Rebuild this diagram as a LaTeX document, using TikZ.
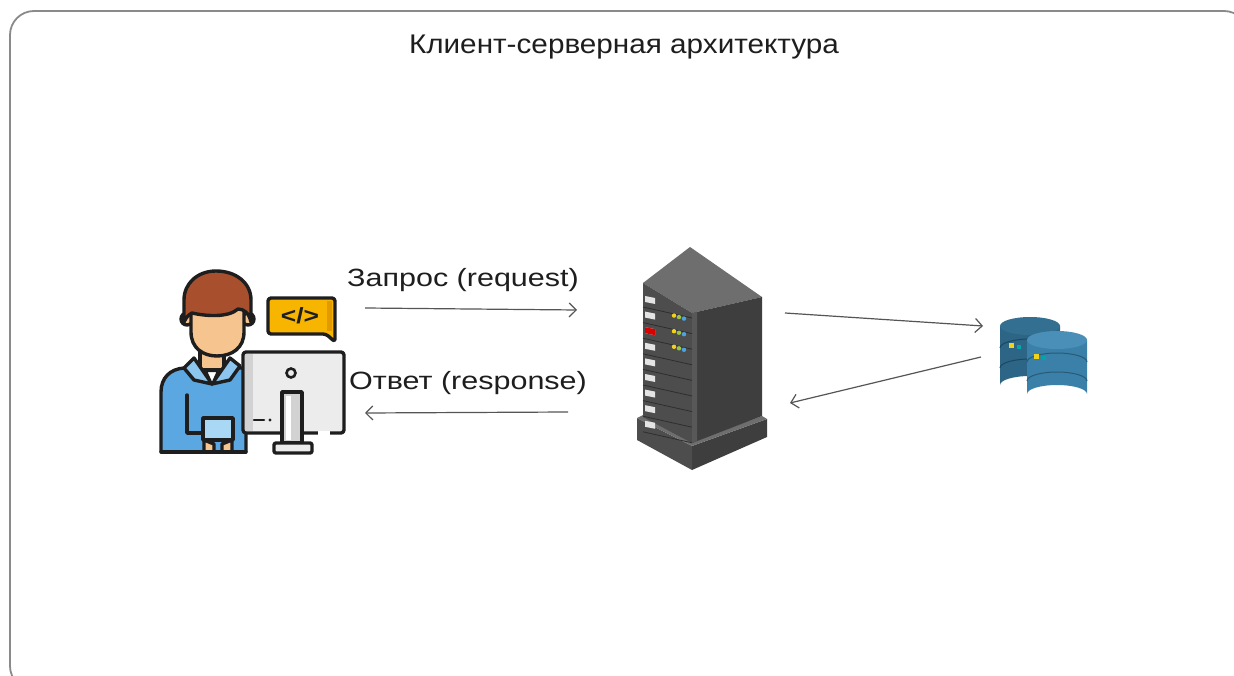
\documentclass[tikz,border=0pt]{standalone}
\usepackage{fontspec}
\setmainfont{Liberation Sans}
\usetikzlibrary{arrows.meta}
\definecolor{ink}{HTML}{1E1E1E}
\definecolor{framegray}{HTML}{8A8A8A}
\definecolor{arrowgray}{HTML}{555555}
\definecolor{hair}{HTML}{A8502E}
\definecolor{skin}{HTML}{F6C48E}
\definecolor{shirt}{HTML}{5AA7E2}
\definecolor{collar}{HTML}{8CC6EE}
\definecolor{pad}{HTML}{A9D8F5}
\definecolor{bubble}{HTML}{F7B500}
\definecolor{bubbledark}{HTML}{E29A00}
\definecolor{screen}{HTML}{ECECEC}
\definecolor{screendark}{HTML}{D2D2D2}
\definecolor{srvtop}{HTML}{6E6E6E}
\definecolor{srvfront}{HTML}{4D4D4D}
\definecolor{srvside}{HTML}{3E3E3E}
\definecolor{srvline}{HTML}{2E2E2E}
\definecolor{slot}{HTML}{E4E4E4}
\definecolor{ledy}{HTML}{F2D21B}
\definecolor{ledg}{HTML}{9BC53D}
\definecolor{ledb}{HTML}{4AA3DF}
\definecolor{dbback}{HTML}{2C6585}
\definecolor{dbbacktop}{HTML}{336F90}
\definecolor{dbfront}{HTML}{3A80A8}
\definecolor{dbfronttop}{HTML}{4A8FB8}
\tikzset{
  outline/.style={draw=ink, line width=3.4pt, line join=round, line cap=round},
  flow/.style={draw=arrowgray, line width=1.2pt, -{Straight Barb[length=7pt,width=14pt,line width=1.2pt]}},
  label/.style={font=\fontsize{25}{28}\selectfont, text=ink, inner sep=0pt},
  iconbox/.style={inner sep=0pt, draw=none}
}
\begin{document}
\begin{tikzpicture}[x=1pt,y=-1pt]
\useasboundingbox (0,0) rectangle (1234,676);
\fill[white] (0,0) rectangle (1234,676);
\begin{scope}
\clip (0,0) rectangle (1234,676);
% outer frame
\draw[framegray, line width=1.8pt, rounded corners=24pt] (10,11) rectangle (1248,690);
\end{scope}

% title
\node[label, font=\fontsize{27}{30}\selectfont] (title) at (624,47) {\scalebox{1.1}[1]{Клиент-серверная архитектура}};

% ---------- client: developer at a monitor ----------
\node[iconbox, minimum width=187pt, minimum height=190pt] (client) at (252,362) {};
% body
\filldraw[fill=shirt, outline] (161,452) -- (161,392) .. controls (161,378) and (170,369) .. (184,368)
  -- (246,368) -- (246,452) -- cycle;
% arm line and forearm
\draw[outline] (187,395) -- (187,433) -- (203,433);
% neck
\filldraw[fill=skin, outline] (200,348) rectangle (224,370);
% collar
\filldraw[fill=collar, outline] (194,358) -- (212,384) -- (230,358) -- (240,366) -- (230,380) -- (212,384) -- (194,380) -- (184,368) -- cycle;
\filldraw[fill=white, draw=ink, line width=2pt] (206,371) -- (212,384) -- (218,371) -- cycle;
% ears
\filldraw[fill=skin, outline] (187,319) circle (6);
\filldraw[fill=skin, outline] (248,319) circle (6);
% face
\filldraw[fill=skin, outline] (191,300) -- (191,332) .. controls (191,348) and (203,356) .. (217,356)
  .. controls (232,356) and (244,348) .. (244,332) -- (244,300) -- cycle;
% hair
\filldraw[fill=hair, outline] (184,322) -- (184,300) .. controls (184,283) and (198,271) .. (216,271)
  .. controls (236,271) and (251,283) .. (251,300) -- (251,322)
  .. controls (249,313) and (244,309) .. (238,309)
  .. controls (228,318) and (205,316) .. (192,313)
  .. controls (188,315) and (186,318) .. (184,322) -- cycle;
% tablet and hands
\filldraw[fill=pad, outline] (203,418) rectangle (233,440);
\filldraw[fill=skin, outline] (204,440) -- (204,452) -- (214,452) -- (214,444) -- cycle;
\filldraw[fill=skin, outline] (232,440) -- (232,452) -- (222,452) -- (222,444) -- cycle;
\draw[outline] (161,452) -- (246,452);
% code bubble
\filldraw[fill=bubble, outline, rounded corners=3pt] (268,298) -- (335,298) -- (335,342) -- (326,334) -- (268,334) -- cycle;
\fill[bubbledark] (327,301) rectangle (332,331);
\node[inner sep=0pt, font=\fontsize{22}{22}\selectfont\bfseries, text=ink] (code) at (300,316) {\scalebox{1.2}[1]{</>}};
% monitor
\filldraw[fill=screen, outline, rounded corners=3pt] (243,352) rectangle (344,433);
\fill[screendark] (245,354) rectangle (253,431);
\draw[white, line width=4pt] (318,433) -- (330,433);
\draw[ink, line width=2.6pt] (291,373) circle (4.5);
\draw[ink, line width=2.6pt, line cap=round] (254,420) -- (264,420);
\fill[ink] (270,420) circle (1.6);
% stand and base
\filldraw[fill=screendark, outline] (282,392) rectangle (302,443);
\fill[white] (286,396) rectangle (291,440);
\filldraw[fill=screen, outline, rounded corners=2pt] (274,443) rectangle (312,453);

% ---------- server tower ----------
\node[iconbox, minimum width=130pt, minimum height=225pt] (server) at (702,357) {};
% plinth
\fill[srvside] (692,446) -- (767,419) -- (767,437) -- (692,470) -- cycle;
\fill[srvfront] (637,418) -- (692,446) -- (692,470) -- (637,440) -- cycle;
\fill[srvtop] (637,418) -- (643,415) -- (692,442) -- (762,416) -- (767,419) -- (692,446) -- cycle;
% faces
\fill[srvtop] (643,283) -- (690,247) -- (762,297) -- (692,313) -- cycle;
\fill[srvfront] (643,283) -- (692,313) -- (692,443) -- (643,417) -- cycle;
\fill[srvside] (692,313) -- (762,297) -- (762,416) -- (692,443) -- cycle;
\fill[srvtop!80!black] (692,313) -- (697,312) -- (697,441) -- (692,443) -- cycle;
% drawer separators and slots
\foreach \i in {0,...,8}{
  \pgfmathsetmacro{\y}{296+15.6*\i}
  \draw[srvline, line width=0.8pt] (643,\y+11) -- (692,\y+22);
  \fill[slot] (645,\y) -- (655,\y+2) -- (655,\y+8) -- (645,\y+6) -- cycle;
}
\fill[red!85!black] (645,327.2) -- (655,329.2) -- (655,335.2) -- (645,333.2) -- cycle;
\foreach \i in {1,2,3}{
  \pgfmathsetmacro{\y}{296+15.6*\i}
  \fill[ledy] (674,\y+4) circle (2.2);
  \fill[ledg] (679,\y+5.5) circle (2.2);
  \fill[ledb] (684,\y+7) circle (2.2);
}

% ---------- database ----------
\node[iconbox, minimum width=90pt, minimum height=88pt] (db) at (1044,360) {};
% back cylinder
\fill[dbback] (1000,326) -- (1000,385) arc[start angle=180, end angle=360, x radius=30, y radius=9] -- (1060,326) -- cycle;
\draw[dbback!70!black, line width=1pt] (1000,348) arc[start angle=180, end angle=360, x radius=30, y radius=9];
\draw[dbback!70!black, line width=1pt] (1000,368) arc[start angle=180, end angle=360, x radius=30, y radius=9];
\fill[dbbacktop] (1030,326) ellipse[x radius=30, y radius=9];
\fill[ledy] (1009,343) rectangle (1014,348);
\fill[teal!70!cyan] (1017,345) rectangle (1021,349);
% front cylinder
\fill[dbfront] (1027,340) -- (1027,394) arc[start angle=180, end angle=360, x radius=30, y radius=9] -- (1087,340) -- cycle;
\draw[dbfront!70!black, line width=1pt] (1027,362) arc[start angle=180, end angle=360, x radius=30, y radius=9];
\draw[dbfront!70!black, line width=1pt] (1027,381) arc[start angle=180, end angle=360, x radius=30, y radius=9];
\fill[dbfronttop] (1057,340) ellipse[x radius=30, y radius=9];
\fill[ledy] (1034,354) rectangle (1039,359);
\fill[teal!70!cyan] (1042,356) rectangle (1046,360);

% ---------- connectors ----------
\coordinate (reqA) at (365,308);
\coordinate (reqB) at (577,310);
\coordinate (resA) at (568,412);
\coordinate (resB) at (365,413);
\coordinate (qA) at (785,313);
\coordinate (qB) at (983,326);
\coordinate (aA) at (981,357);
\coordinate (aB) at (790,403);
\draw[flow] (reqA) -- (reqB);
\draw[flow] (resA) -- (resB);
\draw[flow] (qA) -- (qB);
\draw[flow] (aA) -- (aB);

\node[label] (reqlabel) at (463,280) {\scalebox{1.22}[1]{Запрос (request)}};
\node[label] (reslabel) at (468,383) {\scalebox{1.22}[1]{Ответ (response)}};
\end{tikzpicture}
\end{document}
